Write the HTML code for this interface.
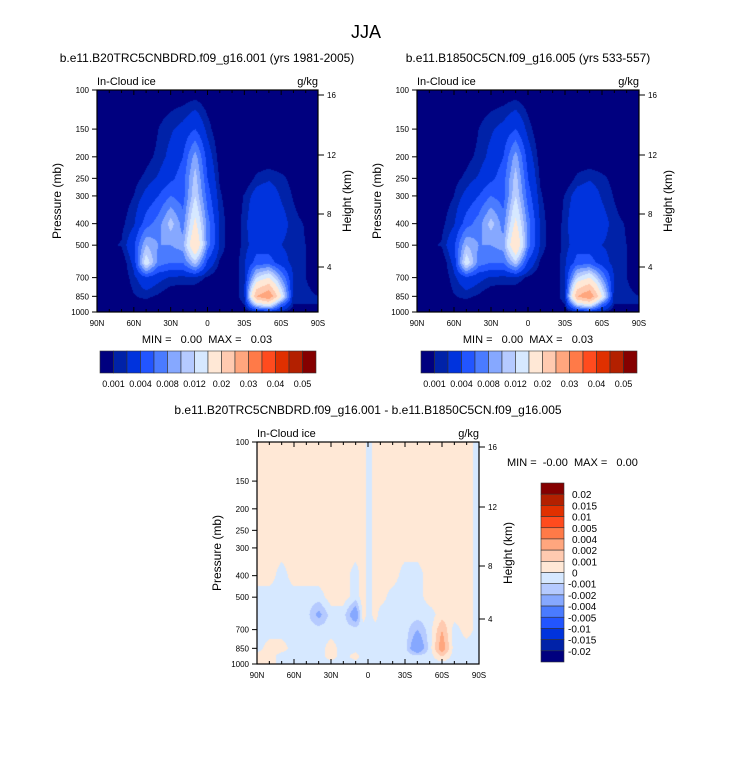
<!DOCTYPE html>
<html><head><meta charset="utf-8">
<style>
body{margin:0;background:#fff;}
#root{position:relative;width:733px;height:758px;overflow:hidden;font-family:"Liberation Sans",sans-serif;}
text{white-space:pre;}
</style></head>
<body>
<div id="root">
<svg id="svg" width="733" height="758" style="position:absolute;left:0;top:0"></svg>
</div>
<script>
// ---- data ----
const pressureLevels = [100,150,200,250,300,400,500,600,700,850,925,1000];
const latsTop = [90,80,70,60,50,40,30,20,10,0,-10,-20,-30,-40,-50,-60,-70,-80,-90];
const iceCtrl = [
[0,0,0,0,0,0,0,0,0,0,0,0,0,0,0,0,0,0,0],
[0,0,0,0,0,0.001,0.0018,0.0025,0.004,0.0015,0,0,0,0,0,0,0,0,0],
[0,0,0,0,0.0006,0.0013,0.0025,0.004,0.009,0.003,0.0004,0,0,0,0,0,0,0,0],
[0,0,0,0.0006,0.0013,0.0022,0.0035,0.005,0.011,0.004,0.0008,0,0,0.0013,0.0018,0.0013,0.0006,0,0],
[0,0,0.0004,0.001,0.0025,0.004,0.006,0.005,0.012,0.005,0.0012,0,0.0011,0.0028,0.0032,0.0018,0.0009,0,0],
[0,0,0.0007,0.0018,0.005,0.007,0.011,0.007,0.016,0.007,0.0018,0,0.0014,0.004,0.004,0.0028,0.0014,0.0009,0.0007],
[0.0008,0.0008,0.0011,0.0035,0.01,0.008,0.008,0.009,0.02,0.007,0.0018,0,0.0014,0.003,0.003,0.002,0.0014,0.001,0.001],
[0,0,0,0.0025,0.014,0.007,0.006,0.006,0.011,0.0035,0.0008,0,0.0018,0.005,0.005,0.003,0.0014,0.001,0.0005],
[0,0,0,0.0016,0.0035,0.0025,0.0018,0.0016,0.0016,0.0008,0,0,0.0018,0.012,0.015,0.008,0.0018,0.001,0.0005],
[0,0,0,0.0009,0.0013,0.0008,0,0,0,0,0,0,0.0018,0.025,0.03,0.015,0.001,0.0012,0.001],
[0,0,0,0.0007,0.0004,0,0,0,0,0,0,0,0.001,0.012,0.015,0.006,0.001,0.001,0.001],
[0,0,0,0,0,0,0,0,0,0,0,0,0,0.001,0.002,0.001,0,0,0]];
const iceExp = iceCtrl.map(r=>r.slice());
const latsDiff = [90,80,70,60,50,40,30,20,10,4,-1,-6,-10,-20,-30,-40,-50,-60,-70,-80,-90];
const P=0.0005, B=-0.0005;
const iceDiff = [
[P,P,P,P,P,P,P,P,P,P,B,P,P,P,P,P,P,P,P,P,B],
[P,P,P,P,P,P,P,P,P,P,B,P,P,P,P,P,P,P,P,P,B],
[P,P,P,P,P,P,P,P,P,P,B,P,P,P,P,P,P,P,P,P,B],
[P,P,P,P,P,P,P,P,P,P,B,P,P,P,P,P,P,P,P,P,B],
[P,P,P,P,P,P,P,P,P,P,B,P,P,P,P,P,P,P,P,P,B],
[P,P,B,P,P,P,P,P,B,P,B,P,P,P,B,B,P,P,P,P,B],
[B,B,B,B,B,B,P,P,B,P,B,P,P,B,B,B,P,P,P,P,B],
[B,B,B,B,B,-0.0025,B,B,-0.0035,P,B,P,B,B,B,B,B,P,P,P,B],
[B,B,B,B,B,B,B,B,B,B,B,B,B,B,B,-0.002,B,0.002,B,P,B],
[B,P,P,B,B,B,P,B,B,B,B,B,B,B,B,-0.004,B,0.003,B,B,B],
[P,P,B,B,B,B,P,B,P,B,B,B,B,B,B,B,B,0.001,B,B,B],
[P,P,B,B,B,B,B,B,B,B,B,B,B,B,B,B,B,B,B,B,B]];
const levelsTop = [0.001,0.002,0.004,0.006,0.008,0.01,0.012,0.015,0.02,0.025,0.03,0.035,0.04,0.045,0.05];
const levelsDiff = [-0.02,-0.015,-0.01,-0.005,-0.004,-0.002,-0.001,0,0.001,0.002,0.004,0.005,0.01,0.015,0.02];
const topLabels = ["0.001","0.004","0.008","0.012","0.02","0.03","0.04","0.05"];
const diffLabels = ["0.02","0.015","0.01","0.005","0.004","0.002","0.001","0","-0.001","-0.002","-0.004","-0.005","-0.01","-0.015","-0.02"];
const pTicks = [100,150,200,250,300,400,500,700,850,1000];
const latTicks = [90,60,30,0,-30,-60,-90];
const latTickLabels = ["90N","60N","30N","0","30S","60S","90S"];
const hTicks = [16,12,8,4];
const hTickOffsets = [5,65,124,177];
const palette = ["#00007f","#0022a8","#0033dd","#2255ff","#4a7bff","#86a8ff","#b5caff","#d6e8ff","#ffe8d6","#ffcab0","#ffa67e","#ff7a48","#ff4b1e","#e03000","#b32000","#850000"];

const NS="http://www.w3.org/2000/svg";
const svg=document.getElementById('svg');
function el(tag,attrs,parent){const e=document.createElementNS(NS,tag);for(const k in attrs)e.setAttribute(k,attrs[k]);(parent||svg).appendChild(e);return e;}
function txt(x,y,s,size,anchor,parent,name,rot){const t=el('text',{x:x,y:y,'font-size':size,'text-anchor':anchor||'middle','font-family':'Liberation Sans, sans-serif',fill:'#000'},parent);
if(rot)t.setAttribute('transform',`rotate(${rot} ${x} ${y})`);


t.textContent=s;return t;}

function colorIdx(v,levels){let i=0;while(i<levels.length&&v>=levels[i])i++;return i;}

function panel(px,py,W,H,lats,field,levels,name){
  const g=el('g',{});
  
  
  const xs=lat=>px+(90-lat)/180*W;
  const ys=p=>py+Math.log10(p/100)*H;
  const cv=document.createElement('canvas');cv.width=W;cv.height=H;
  const ctx=cv.getContext('2d');const img=ctx.createImageData(W,H);
  const rgb=palette.map(c=>[parseInt(c.substr(1,2),16),parseInt(c.substr(3,2),16),parseInt(c.substr(5,2),16)]);
  for(let j=0;j<H;j++){
    const p=100*Math.pow(10,(j+0.5)/H);
    let r=0;while(r<pressureLevels.length-2&&p>pressureLevels[r+1])r++;
    let fy=(Math.log(p)-Math.log(pressureLevels[r]))/(Math.log(pressureLevels[r+1])-Math.log(pressureLevels[r]));fy=Math.max(0,Math.min(1,fy));
    for(let i=0;i<W;i++){
      const lat=90-(i+0.5)/W*180;
      let c=0;while(c<lats.length-2&&lat<lats[c+1])c++;
      let fx=(lats[c]-lat)/(lats[c]-lats[c+1]);fx=Math.max(0,Math.min(1,fx));
      const v=(field[r][c]*(1-fx)+field[r][c+1]*fx)*(1-fy)+(field[r+1][c]*(1-fx)+field[r+1][c+1]*fx)*fy;
      const k=colorIdx(v,levels);const o=(j*W+i)*4;
      img.data[o]=rgb[k][0];img.data[o+1]=rgb[k][1];img.data[o+2]=rgb[k][2];img.data[o+3]=255;
    }
  }
  ctx.putImageData(img,0,0);
  cv.style.cssText=`position:absolute;left:${px}px;top:${py}px`;
  
  
  document.getElementById('root').insertBefore(cv,svg);
  const frame=el('rect',{x:px,y:py,width:W,height:H,fill:'none',stroke:'#000','stroke-width':1.2},g);
  
  
  for(let lat=90;lat>=-90;lat-=10){
    const x=xs(lat);const major=lat%30===0;
    el('line',{x1:x,y1:py+H,x2:x,y2:py+H-(major?5:3),stroke:'#000'},g);
    el('line',{x1:x,y1:py,x2:x,y2:py+(major?5:3),stroke:'#000'},g);
  }
  latTicks.forEach((lat,i)=>txt(xs(lat),py+H+14,latTickLabels[i],8,'middle',g,'x-tick-label'));
  pTicks.forEach(p=>{const y=ys(p);el('line',{x1:px-5,y1:y,x2:px,y2:y,stroke:'#000'},g);txt(px-8,y+3,String(p),8,'end',g,'y-tick-label');});
  el('line',{x1:px+W,y1:py,x2:px+W,y2:py+H,stroke:'#000'},g);
  hTicks.forEach((h,i)=>{const y=py+hTickOffsets[i];el('line',{x1:px+W,y1:y,x2:px+W+6,y2:y,stroke:'#000'},g);txt(px+W+9,y+3,String(h),8,'start',g,'height-tick-label');});
  txt(px-36,py+H/2,'Pressure (mb)',12,'middle',g,'y-axis-title',-90);
  txt(px+W+33,py+H/2,'Height (km)',12,'middle',g,'right-axis-title',-90);
  txt(px,py-5,'In-Cloud ice',11,'start',g,'variable-label');
  txt(px+W,py-5,'g/kg',11,'end',g,'units-label');
}
function hbar(x,y,w,h,name){
  const g=el('g',{});
  const bw=w/palette.length;
  palette.forEach((c,i)=>{const r=el('rect',{x:x+i*bw,y:y,width:bw,height:h,fill:c,stroke:'#333','stroke-width':0.6},g);
    });
  topLabels.forEach((s,i)=>txt(x+(2*i+1)*bw,y+h+14,s,9,'middle',g,'colorbar-label'));
}
function vbar(x,y,w,h,name){
  const g=el('g',{});
  const bh=h/palette.length;
  palette.slice().reverse().forEach((c,i)=>{const r=el('rect',{x:x,y:y+i*bh,width:w,height:bh,fill:c,stroke:'#333','stroke-width':0.6},g);
    });
  diffLabels.forEach((s,i)=>txt(x+w+4+(s[0]==='-'?0:4),y+(i+1)*bh+4,s,10,'start',g,'colorbar-label'));
}
txt(366,38,'JJA',18,'middle',svg,'figure-title');
txt(207,62,'b.e11.B20TRC5CNBDRD.f09_g16.001 (yrs 1981-2005)',12,'middle',svg,'left-panel-title');
txt(528,62,'b.e11.B1850C5CN.f09_g16.005 (yrs 533-557)',12,'middle',svg,'right-panel-title');
txt(368,414,'b.e11.B20TRC5CNBDRD.f09_g16.001 - b.e11.B1850C5CN.f09_g16.005',12,'middle',svg,'diff-panel-title');
panel(97,90,221,222,latsTop,iceCtrl,levelsTop,'left-panel');
panel(417,90,222,222,latsTop,iceExp,levelsTop,'right-panel');
panel(257,442,222,222,latsDiff,iceDiff,levelsDiff,'diff-panel');
txt(207,343,'MIN =   0.00  MAX =   0.03',11,'middle',svg,'left-minmax');
txt(528,343,'MIN =   0.00  MAX =   0.03',11,'middle',svg,'right-minmax');
txt(507,466,'MIN =  -0.00  MAX =   0.00',11,'start',svg,'diff-minmax');
hbar(100,351,216,22,'left-colorbar');
hbar(421,351,216,22,'right-colorbar');
vbar(541,483,23,179,'diff-colorbar');
</script>
</body></html>
